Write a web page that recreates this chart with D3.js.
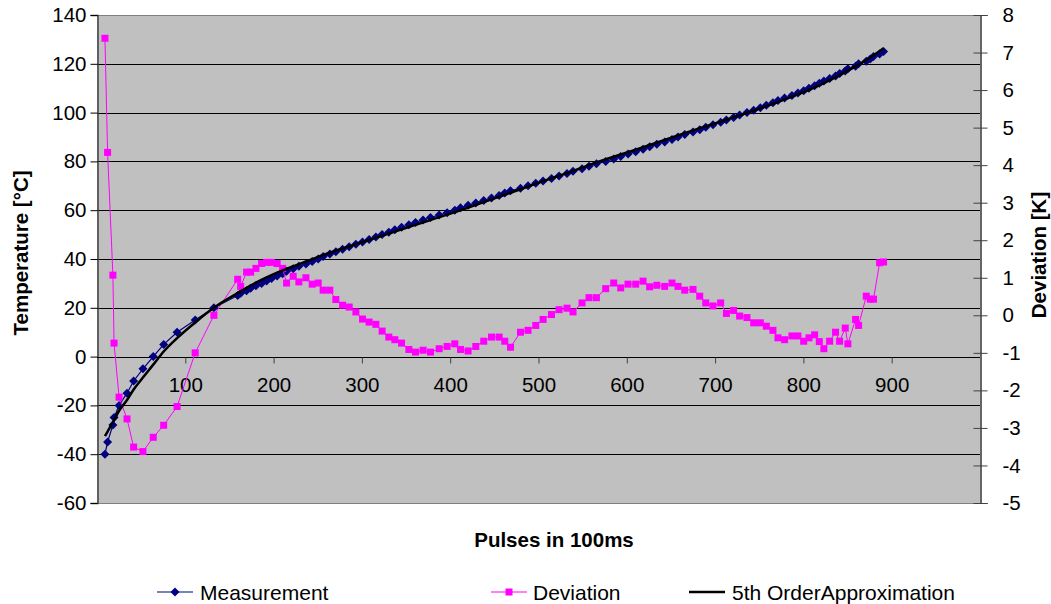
<!DOCTYPE html>
<html>
<head>
<meta charset="utf-8">
<script src="https://cdn.jsdelivr.net/npm/d3@7"></script>
<style>
  html, body { margin: 0; padding: 0; background: #fff; }
  svg { display: block; font-family: "Liberation Sans", Arial, sans-serif; }
</style>
</head>
<body>
<svg id="chart" width="1051" height="604"></svg>
<script>
// ---- Data ----
const pulses = [
  9, 12, 18, 19.3, 25, 34, 41.5, 52, 63.7, 75.5, 90.7, 111.2, 132.4,
  159.3, 162.7, 169.4, 174, 180, 186.4, 192.1, 197.7, 204, 210.2,
  214.7, 222.2, 228.6, 236.6, 243.7, 250.5, 256.1, 263.7, 270.5, 278.1,
  285.6, 293.2, 300.7, 308.2, 315.8, 322.9, 330.5, 337.3, 344.9, 353.2,
  360.7, 369.3, 377.7, 387.5, 396.5, 405.2, 411.7, 420.3, 429, 438,
  446.8, 455.4, 461.8, 468.3, 479.6, 488.2, 496.9, 505.2, 514.7, 523.3,
  532.3, 539.1, 549.3, 557.2, 565.6, 576.1, 585.2, 593.1, 601.4, 610.1,
  618.4, 625.9, 634, 642.9, 651.2, 658, 665.6, 675, 682.6, 689.4,
  697.6, 706.3, 712.8, 721, 727.8, 736.1, 743.7, 751.2, 758, 765.5,
  771.2, 778.7, 787, 793.8, 800.3, 806.3, 812.7, 818, 823.2, 829.7,
  836.4, 841, 847.4, 850.4, 859.1, 862.5, 871.2, 875.7, 879.4, 886.3, 890.8
];
const measurement = [
  -40, -35, -28, -25, -20, -15, -10, -5, 0, 5, 10, 15, 20,
  25, 26, 27, 28, 29, 30, 31, 32, 33, 34,
  35, 36, 37, 38, 39, 40, 41, 42, 43, 44,
  45, 46, 47, 48, 49, 50, 51, 52, 53, 54,
  55, 56, 57, 58, 59, 60, 61, 62, 63, 64,
  65, 66, 67, 68, 69, 70, 71, 72, 73, 74,
  75, 76, 77, 78, 79, 80, 81, 82, 83, 84,
  85, 86, 87, 88, 89, 90, 91, 92, 93, 94,
  95, 96, 97, 98, 99, 100, 101, 102, 103, 104,
  105, 106, 107, 108, 109, 110, 111, 112, 113, 114,
  115, 116, 117, 118, 119, 120, 121, 122, 123, 124, 125
];
const deviation = [
  7.38, 4.34, 1.07, -0.74, -2.18, -2.76, -3.51, -3.63, -3.25, -2.93, -2.43, -1.0, 0.0,
  0.96, 0.77, 1.15, 1.15, 1.25, 1.38, 1.41, 1.41, 1.38, 1.25,
  0.86, 1.04, 0.89, 1.0, 0.83, 0.86, 0.67, 0.67, 0.42, 0.27,
  0.22, 0.09, -0.1, -0.18, -0.24, -0.42, -0.58, -0.65, -0.74, -0.91,
  -0.98, -0.93, -0.98, -0.89, -0.83, -0.76, -0.91, -0.95, -0.83, -0.69,
  -0.58, -0.58, -0.69, -0.85, -0.45, -0.4, -0.27, -0.11, 0.02, 0.15,
  0.19, 0.09, 0.33, 0.47, 0.47, 0.71, 0.86, 0.73, 0.83, 0.83,
  0.91, 0.76, 0.8, 0.77, 0.86, 0.77, 0.67, 0.69, 0.51, 0.33,
  0.25, 0.33, 0.05, 0.13, -0.02, -0.06, -0.2, -0.2, -0.29, -0.4,
  -0.6, -0.65, -0.55, -0.55, -0.69, -0.6, -0.52, -0.7, -0.89, -0.69,
  -0.45, -0.69, -0.34, -0.76, -0.11, -0.27, 0.51, 0.43, 0.43, 1.4, 1.42
];
const approxPulses = [9, 12, 18, 25, 34, 41.5, 52, 63.7, 75.5, 90.7, 111.2, 132.4, 159.3, 180, 204,
  228.6, 250.5, 278.1, 300.7, 330.5, 353.2, 377.7, 405.2, 438, 479.6, 505.2, 532.3, 557.2, 585.2,
  610.1, 642.9, 675, 706.3, 736.1, 765.5, 793.8, 823.2, 850.4, 871.2, 890.8];
const approxTemps = [-32.6, -30.7, -26.9, -22.2, -17.8, -13.5, -8.6, -3.3, 2.1, 7.6, 14.0, 20.0, 26.0, 30.3, 34.4,
  37.9, 40.9, 44.3, 46.9, 50.4, 53.1, 56.0, 59.2, 63.3, 68.6, 71.9, 75.2, 78.5, 81.9,
  84.8, 88.8, 92.7, 96.3, 99.9, 103.6, 107.45, 112.1, 117.2, 121.5, 126.4];

const xTicks = [100, 200, 300, 400, 500, 600, 700, 800, 900];
const leftTicks = [-60, -40, -20, 0, 20, 40, 60, 80, 100, 120, 140];
const rightTicks = [-5, -4, -3, -2, -1, 0, 1, 2, 3, 4, 5, 6, 7, 8];
const legendLabels = ["Measurement", "Deviation", "5th OrderApproximation"];

// ---- Layout ----
const L = 97, R = 980, T = 15, B = 503;
const svg = d3.select("#chart");
const x = d3.scaleLinear().domain([0, 1000]).range([L, R]);
const yL = d3.scaleLinear().domain([-60, 140]).range([B, T]);
const yR = d3.scaleLinear().domain([-5, 8]).range([B, T]);
const FONT = 20.5;
const fmt = d => String(d);   // plain hyphen-minus like the reference

// plot background
svg.append("rect").attr("x", L).attr("y", T).attr("width", R - L).attr("height", B - T).attr("fill", "#C0C0C0");

// gridlines
svg.append("g").selectAll("line").data(leftTicks.filter(v => v > -60 && v < 140 && v !== 0)).join("line")
  .attr("x1", L).attr("x2", R)
  .attr("y1", d => Math.round(yL(d)) + 0.5).attr("y2", d => Math.round(yL(d)) + 0.5)
  .attr("stroke", "#000").attr("stroke-width", 1);

// plot border (top & bottom gray)
svg.append("line").attr("x1", L).attr("x2", R).attr("y1", T + 0.5).attr("y2", T + 0.5).attr("stroke", "#808080");
svg.append("line").attr("x1", L).attr("x2", R).attr("y1", B + 0.5).attr("y2", B + 0.5).attr("stroke", "#808080");

// left axis
const gL = svg.append("g").attr("transform", `translate(${L + 0.5},0)`)
  .call(d3.axisLeft(yL).tickValues(leftTicks).tickSize(7).tickPadding(4).tickFormat(fmt));
gL.select(".domain").attr("stroke", "#404040").attr("stroke-width", 1.5);
gL.selectAll(".tick line").attr("stroke", "#000");
gL.selectAll("text").attr("font-size", FONT).attr("fill", "#000").attr("font-family", "Liberation Sans, Arial, sans-serif");

// right axis
const gR = svg.append("g").attr("transform", `translate(${R + 0.5},0)`)
  .call(d3.axisRight(yR).tickValues(rightTicks).tickSize(7).tickPadding(15).tickFormat(fmt));
gR.select(".domain").attr("stroke", "#000").attr("stroke-width", 1.2);
gR.selectAll(".tick line").attr("x1", -7).attr("stroke", "#404040");
gR.selectAll("text").attr("font-size", FONT).attr("fill", "#000").attr("font-family", "Liberation Sans, Arial, sans-serif");

// x axis at y = 0
const gX = svg.append("g").attr("transform", `translate(0,${Math.round(yL(0)) + 0.5})`)
  .call(d3.axisBottom(x).tickValues(xTicks).tickSize(6).tickPadding(14).tickFormat(fmt));
gX.select(".domain").attr("d", `M${L},0H${R}`).attr("stroke", "#000").attr("stroke-width", 1.2);
gX.selectAll(".tick line").attr("stroke", "#404040");
gX.selectAll("text").attr("font-size", FONT).attr("fill", "#000").attr("font-family", "Liberation Sans, Arial, sans-serif");

// ---- Series ----
const measData = pulses.map((p, i) => [p, measurement[i]]);
const devData = pulses.map((p, i) => [p, deviation[i]]);
const apxData = approxPulses.map((p, i) => [p, approxTemps[i]]);

// Measurement
svg.append("path").datum(measData)
  .attr("d", d3.line().x(d => x(d[0])).y(d => yL(d[1])))
  .attr("fill", "none").attr("stroke", "#000080").attr("stroke-width", 1.2);
svg.append("g").selectAll("path").data(measData).join("path")
  .attr("transform", d => `translate(${x(d[0])},${yL(d[1])})`)
  .attr("d", "M0,-4.5L4.5,0L0,4.5L-4.5,0Z")
  .attr("fill", "#000080");

// Deviation
svg.append("path").datum(devData)
  .attr("d", d3.line().x(d => x(d[0])).y(d => yR(d[1])))
  .attr("fill", "none").attr("stroke", "#FF00FF").attr("stroke-width", 1);
svg.append("g").selectAll("rect").data(devData).join("rect")
  .attr("x", d => x(d[0]) - 3.5).attr("y", d => yR(d[1]) - 3.5)
  .attr("width", 7).attr("height", 7)
  .attr("fill", "#FF00FF");

// Approximation
svg.append("path").datum(apxData)
  .attr("d", d3.line().curve(d3.curveMonotoneX).x(d => x(d[0])).y(d => yL(d[1])))
  .attr("fill", "none").attr("stroke", "#000").attr("stroke-width", 2.5);

// ---- Titles ----
svg.append("text").attr("transform", "translate(20,253) rotate(-90)")
  .attr("text-anchor", "middle").attr("dominant-baseline", "central")
  .attr("font-size", FONT).attr("font-weight", "bold").text("Temperature [°C]");
svg.append("text").attr("transform", "translate(1038,255) rotate(-90)")
  .attr("text-anchor", "middle").attr("dominant-baseline", "central")
  .attr("font-size", FONT).attr("font-weight", "bold").text("Deviation [K]");
svg.append("text").attr("x", 554).attr("y", 539)
  .attr("text-anchor", "middle").attr("dominant-baseline", "central")
  .attr("font-size", FONT).attr("font-weight", "bold").text("Pulses in 100ms");

// ---- Legend ----
const legY = 592;
const legItems = [
  { x0: 157, x1: 193, tx: 200, color: "#000080", marker: "diamond", w: 1.2 },
  { x0: 491, x1: 527, tx: 533, color: "#FF00FF", marker: "square", w: 1 },
  { x0: 689, x1: 725, tx: 732, color: "#000", marker: null, w: 2.5 }
];
const lg = svg.append("g");
legItems.forEach((it, i) => {
  lg.append("line").attr("x1", it.x0).attr("x2", it.x1).attr("y1", legY).attr("y2", legY)
    .attr("stroke", it.color).attr("stroke-width", it.w);
  const cx = (it.x0 + it.x1) / 2;
  if (it.marker === "diamond") {
    lg.append("path").attr("transform", `translate(${cx},${legY})`).attr("d", "M0,-4.5L4.5,0L0,4.5L-4.5,0Z").attr("fill", it.color);
  } else if (it.marker === "square") {
    lg.append("rect").attr("x", cx - 3.5).attr("y", legY - 3.5).attr("width", 7).attr("height", 7).attr("fill", it.color);
  }
  lg.append("text").attr("x", it.tx).attr("y", legY).attr("dominant-baseline", "central")
    .attr("font-size", 21).text(legendLabels[i]);
});
</script>
</body>
</html>
